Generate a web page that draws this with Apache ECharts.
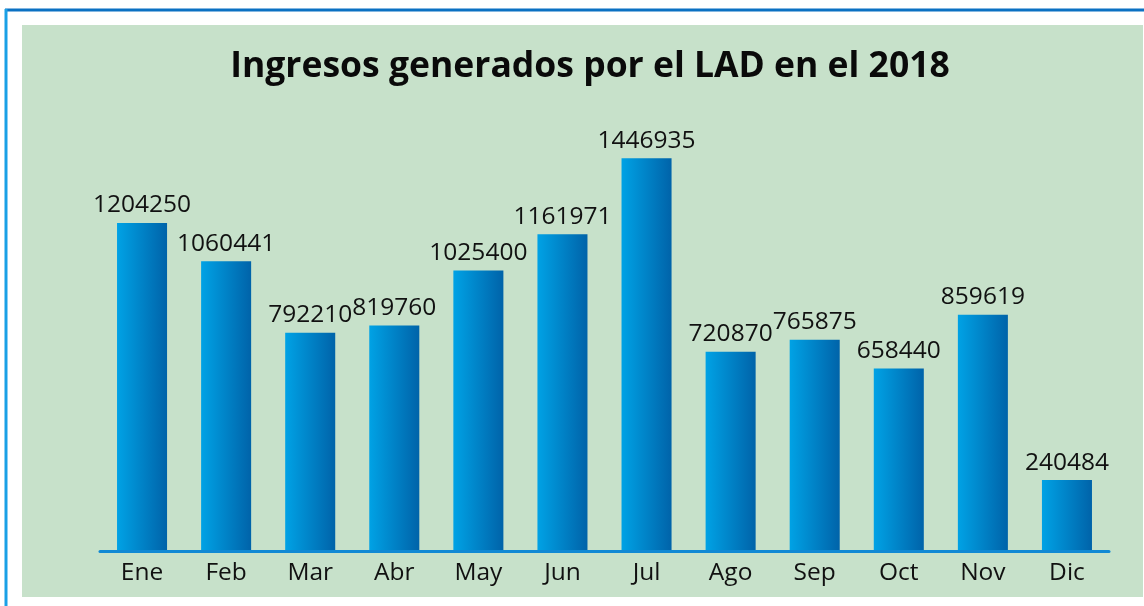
<!DOCTYPE html>
<html>
<head>
<meta charset="utf-8">
<script src="https://cdn.jsdelivr.net/npm/echarts@6/dist/echarts.min.js"></script>
<style>
html,body{margin:0;padding:0;background:#fff;}
#chart{width:1144px;height:606px;}
</style>
</head>
<body>
<div id="chart"></div>
<script>
const titleText = 'Ingresos generados por el LAD en el 2018';
const categories = ['Ene','Feb','Mar','Abr','May','Jun','Jul','Ago','Sep','Oct','Nov','Dic'];
const ingresos = [1204250,1060441,792210,819760,1025400,1161971,1446935,720870,765875,658440,859619,240484];
const yMin = -21800;
const yMax = 1500000;

const chart = echarts.init(document.getElementById('chart'));
const barGradient = new echarts.graphic.LinearGradient(0,0,1,0,[
  {offset:0,color:'#00a2e5'},
  {offset:1,color:'#0063a9'}
]);

const option = {
  backgroundColor:'#ffffff',
  animation:false,
  graphic:[
    {type:'rect', z:-10, silent:true, shape:{x:22,y:25,width:1121,height:572}, style:{fill:'#c7e1ca'}},
    {type:'line', z:-9, silent:true, shape:{x1:5,y1:10,x2:1144,y2:10}, style:{stroke:'#0b71c3',lineWidth:3}},
    {type:'line', z:-9, silent:true, shape:{x1:6,y1:9,x2:6,y2:606}, style:{stroke:'#1aa0e6',lineWidth:3}}
  ],
  title:{
    text:titleText,
    left:585, top:44, textAlign:'center',
    textStyle:{fontFamily:'Open Sans', fontWeight:'bold', fontSize:35.5, color:'#0a0a0a'}
  },
  grid:{left:100, right:35, top:144, bottom:56, containLabel:false},
  xAxis:{
    type:'category', data:categories, offset:1,
    axisLine:{onZero:false, lineStyle:{color:'#1189d4', width:3}},
    axisTick:{show:false},
    axisLabel:{margin:10, fontFamily:'Open Sans', fontSize:24.5, color:'#111'}
  },
  yAxis:{type:'value', min:yMin, max:yMax, show:false, splitLine:{show:false}},
  series:[{
    type:'custom',
    data:ingresos.map((v,i)=>[i,v]),
    encode:{x:0,y:1},
    renderItem:function(params, api){
      const idx = api.value(0);
      const v = api.value(1);
      const top = api.coord([idx, v]);
      const base = api.coord([idx, yMin]);
      const w = api.size([1,0])[0]*0.595;
      return {
        type:'rect',
        shape:{x:top[0]-w/2, y:top[1], width:w, height:base[1]-top[1]},
        style:{fill:barGradient},
        textContent:{style:{text:String(ingresos[idx]), fontFamily:'Open Sans', fontSize:24.5, fill:'#111'}},
        textConfig:{position:'top', distance:5}
      };
    }
  }]
};
chart.setOption(option);
</script>
</body>
</html>
